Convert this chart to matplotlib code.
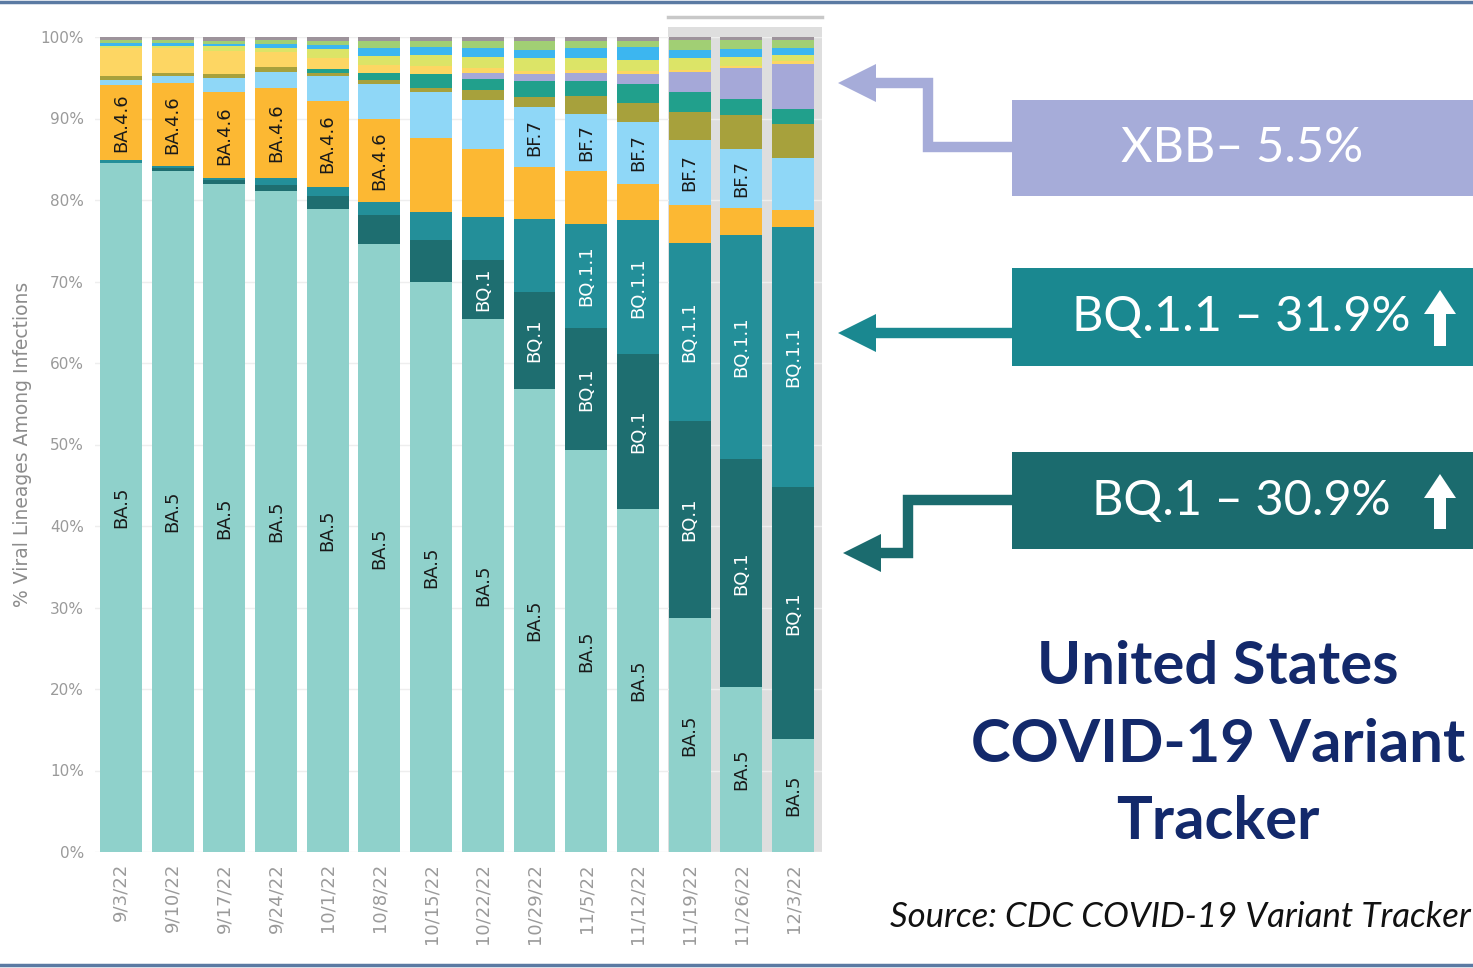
import matplotlib
matplotlib.use("Agg")
import matplotlib.pyplot as plt
from matplotlib.patches import Rectangle, Polygon
import numpy as np

# weekly dates
weeks = ["9/3/22", "9/10/22", "9/17/22", "9/24/22", "10/1/22", "10/8/22", "10/15/22",
         "10/22/22", "10/29/22", "11/5/22", "11/12/22", "11/19/22", "11/26/22", "12/3/22"]

# lineage shares (%), bottom to top of each bar
ba5 = [84.5, 83.6, 82.0, 81.1, 78.9, 74.6, 70.0, 65.4, 56.8, 49.3, 42.1, 28.7, 20.3, 13.9]
bq1 = [0.0, 0.3, 0.4, 0.8, 1.6, 3.5, 5.1, 7.2, 11.9, 15.0, 19.0, 24.2, 27.9, 30.9]
bq11 = [0.4, 0.3, 0.3, 0.8, 1.1, 1.6, 3.4, 5.3, 9.0, 12.8, 16.4, 21.8, 27.5, 31.9]
ba46 = [9.2, 10.2, 10.5, 11.0, 10.5, 10.2, 9.1, 8.4, 6.3, 6.5, 4.5, 4.7, 3.3, 2.1]
bf7 = [0.6, 0.8, 1.8, 2.0, 3.1, 4.3, 5.7, 6.0, 7.4, 7.0, 7.6, 8.0, 7.3, 6.3]
ba275 = [0.5, 0.4, 0.4, 0.6, 0.4, 0.5, 0.5, 1.2, 1.2, 2.2, 2.3, 3.4, 4.1, 4.2]
bn1 = [0.0, 0.0, 0.0, 0.0, 0.5, 0.9, 1.6, 1.3, 2.0, 1.8, 2.3, 2.4, 2.0, 1.9]
xbb = [0.0, 0.0, 0.0, 0.0, 0.0, 0.0, 0.0, 0.8, 0.8, 1.0, 1.2, 2.5, 3.8, 5.5]
ba4 = [3.5, 3.1, 2.9, 1.8, 1.3, 1.0, 1.0, 0.6, 0.4, 0.4, 0.4, 0.3, 0.3, 0.3]
ba2752 = [0.2, 0.2, 0.6, 0.5, 1.1, 1.1, 1.4, 1.4, 1.6, 1.4, 1.4, 1.4, 1.1, 0.8]
ba526 = [0.4, 0.4, 0.3, 0.5, 0.5, 0.9, 1.0, 1.0, 1.0, 1.2, 1.6, 1.0, 0.9, 0.9]
ba2 = [0.3, 0.3, 0.3, 0.5, 0.5, 0.9, 0.7, 0.9, 1.1, 0.9, 0.7, 1.2, 1.1, 0.9]
other = [0.4, 0.4, 0.5, 0.4, 0.5, 0.5, 0.5, 0.5, 0.5, 0.5, 0.5, 0.4, 0.4, 0.4]

series = [
    ("BA.5", ba5, "#8fd1cb"),
    ("BQ.1", bq1, "#1e6e70"),
    ("BQ.1.1", bq11, "#238f99"),
    ("BA.4.6", ba46, "#fcb833"),
    ("BF.7", bf7, "#8fd7f7"),
    ("BA.2.75", ba275, "#a7a13c"),
    ("BN.1", bn1, "#21a08c"),
    ("XBB", xbb, "#a5a8d8"),
    ("BA.4", ba4, "#fdd663"),
    ("BA.2.75.2", ba2752, "#dce467"),
    ("BA.5.2.6", ba526, "#3cb6f0"),
    ("BA.2", ba2, "#a1cf74"),
    ("Other", other, "#9d939b"),
]

# which bars carry an in-bar label, and text colour
bar_labels = {
    "BA.5": (list(range(14)), "#1a1a1a"),
    "BA.4.6": ([0, 1, 2, 3, 4, 5], "#1a1a1a"),
    "BF.7": ([8, 9, 10, 11, 12], "#1a1a1a"),
    "BQ.1": ([7, 8, 9, 10, 11, 12, 13], "white"),
    "BQ.1.1": ([9, 10, 11, 12, 13], "white"),
}

W, H = 1473, 968
fig = plt.figure(figsize=(W / 100, H / 100), dpi=100)
fig.patch.set_facecolor("white")

ax = fig.add_axes([95 / W, 1 - 852 / H, (822 - 95) / W, (852 - 37) / H])
x = np.arange(len(weeks))

# grey highlight behind the last three weeks
ax.add_patch(Rectangle((10.58, 0), 13.56 - 10.58, 101.2, facecolor="#dedede",
                       edgecolor="none", zorder=0, clip_on=False))
ax.plot([10.58, 13.56], [102.4, 102.4], color="#c8c8c8", lw=2.5, clip_on=False, zorder=0)

bottom = np.zeros(len(weeks))
for name, vals, color in series:
    vals = np.array(vals)
    ax.bar(x, vals, bottom=bottom, width=0.81, color=color, edgecolor="none", zorder=2)
    if name in bar_labels:
        idx, tc = bar_labels[name]
        for i in idx:
            ax.text(x[i], bottom[i] + vals[i] / 2, name, rotation=90, ha="center",
                    va="center", fontsize=13, color=tc, zorder=3)
    bottom += vals

ax.set_xlim(-0.5, 13.56)
ax.set_ylim(0, 100)
ax.set_yticks(range(0, 101, 10))
ax.set_yticklabels([f"{v}%" for v in range(0, 101, 10)], fontsize=11, color="#9a9a9a")
ax.set_xticks(x)
ax.set_xticklabels(weeks, rotation=90, fontsize=13, color="#9a9a9a")
ax.tick_params(length=0, pad=8)
ax.yaxis.grid(True, color="#eeeeee", lw=1)
ax.set_axisbelow(True)
for s in ax.spines.values():
    s.set_visible(False)
ax.set_ylabel("% Viral Lineages Among Infections", fontsize=13.5, color="#8c8c8c", labelpad=6)

# overlay in pixel coordinates for the callouts
ov = fig.add_axes([0, 0, 1, 1], zorder=5)
ov.set_xlim(0, W)
ov.set_ylim(H, 0)
ov.axis("off")
ov.patch.set_alpha(0)

ov.plot([0, W], [1.5, 1.5], color="#5b7aa3", lw=2.5)
ov.plot([0, W], [965, 965], color="#5b7aa3", lw=2.5)


def callout(y0, y1, color, label, text_x, path, tip, up_arrow):
    ov.add_patch(Rectangle((1012, y0), W - 1012, y1 - y0, facecolor=color, edgecolor="none"))
    xs, ys = zip(*path)
    ov.plot(xs, ys, color=color, lw=7.5, solid_joinstyle="miter", solid_capstyle="butt")
    tx, ty = tip
    ov.add_patch(Polygon([(tx, ty), (tx + 38, ty - 19), (tx + 38, ty + 19)],
                         closed=True, facecolor=color, edgecolor="none"))
    ov.text(text_x, (y0 + y1) / 2, label, ha="center", va="center", color="white",
            fontsize=35, family="Lato")
    if up_arrow:
        ax_, top = 1440, y0 + 22
        bot = y1 - 20
        ov.add_patch(Polygon([(ax_, top), (ax_ + 16, top + 24), (ax_ + 6, top + 24),
                              (ax_ + 6, bot), (ax_ - 6, bot), (ax_ - 6, top + 24),
                              (ax_ - 16, top + 24)], closed=True, facecolor="white",
                             edgecolor="none"))


callout(100, 196, "#a6acd9", "XBB– 5.5%", 1242,
        [(1013, 147), (928, 147), (928, 83), (870, 83)], (838, 83), False)
callout(268, 366, "#1a8890", "BQ.1.1 – 31.9%", 1241,
        [(1013, 333), (870, 333)], (838, 333), True)
callout(452, 549, "#1b6b6e", "BQ.1 – 30.9%", 1241,
        [(1013, 500), (908, 500), (908, 553), (875, 553)], (843, 553), True)

for line, yy in zip(["United States", "COVID-19 Variant", "Tracker"], [667, 745, 822]):
    ov.text(1218, yy, line, ha="center", va="center", color="#13296b",
            fontsize=43, fontweight="bold", family="Lato")

ov.text(890, 917, "Source: CDC COVID-19 Variant Tracker", ha="left", va="center",
        color="#111111", fontsize=25, style="italic", family="Lato")

fig.savefig("out.png", dpi=100)
